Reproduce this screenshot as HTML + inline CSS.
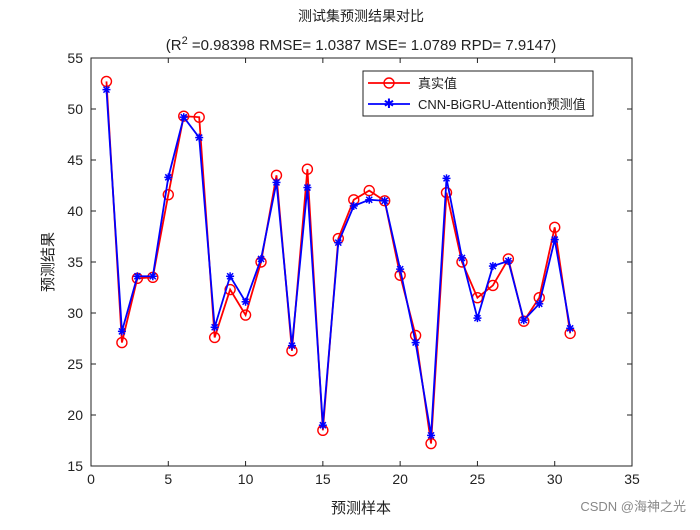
<!DOCTYPE html>
<html><head><meta charset="utf-8"><style>
body{margin:0;background:#fff;width:700px;height:525px;overflow:hidden}
svg text{font-family:"Liberation Sans","Noto Sans CJK SC",sans-serif;fill:#222}
</style></head><body>
<svg id="chart" width="700" height="525">
<text x="361" y="21" text-anchor="middle" font-size="14">测试集预测结果对比</text>
<text x="361" y="50" text-anchor="middle" font-size="15">(R<tspan dy="-6" font-size="11">2</tspan><tspan dy="6"> =0.98398 RMSE= 1.0387 MSE= 1.0789 RPD= 7.9147)</tspan></text>
<g id="axes"></g>
<g id="series"></g>
<g>
<rect x="363" y="71" width="230" height="45" fill="#fff" stroke="#222" stroke-width="1"/>
<line x1="368" y1="83" x2="410" y2="83" stroke="#f00" stroke-width="1.8"/>
<circle cx="389" cy="83" r="5" fill="none" stroke="#f00" stroke-width="1.4"/>
<text x="418" y="88" font-size="13">真实值</text>
<line x1="368" y1="104" x2="410" y2="104" stroke="#00f" stroke-width="1.8"/>
<text x="389" y="108" text-anchor="middle" font-size="13" style="fill:#00f">✱</text>
<text x="418" y="109" font-size="13">CNN-BiGRU-Attention预测值</text>
</g>
<text x="361" y="513" text-anchor="middle" font-size="15">预测样本</text>
<text transform="translate(53,262) rotate(-90)" text-anchor="middle" font-size="15">预测结果</text>
<text x="686" y="511" text-anchor="end" font-size="13" style="fill:#888">CSDN @海神之光</text>
</svg>
<script>
const actual=[52.7,27.1,33.4,33.5,41.6,49.3,49.2,27.6,32.3,29.8,35.0,43.5,26.3,44.1,18.5,37.3,41.1,42.0,41.0,33.7,27.8,17.2,41.8,35.0,31.5,32.7,35.3,29.2,31.5,38.4,28.0];
const predicted=[51.9,28.2,33.6,33.6,43.3,49.2,47.2,28.6,33.6,31.1,35.3,42.8,26.8,42.3,19.0,36.9,40.5,41.1,41.0,34.3,27.1,18.0,43.2,35.4,29.5,34.6,35.1,29.3,30.9,37.2,28.5];
const xTicks=[0,5,10,15,20,25,30,35];
const yTicks=[15,20,25,30,35,40,45,50,55];
const X0=91,X1=632,Y0=466,Y1=58;
const sx=v=>X0+(v-0)/35*(X1-X0);
const sy=v=>Y0-(v-15)/40*(Y0-Y1);
const NS="http://www.w3.org/2000/svg";
function mk(t,a,p){const e=document.createElementNS(NS,t);for(const k in a)e.setAttribute(k,a[k]);p.appendChild(e);return e;}
const ax=document.getElementById('axes');
const frame=mk('rect',{x:X0,y:Y1,width:X1-X0,height:Y0-Y1,fill:'none',stroke:'#222','stroke-width':1},ax);


xTicks.forEach(t=>{const x=sx(t);
mk('line',{x1:x,y1:Y0,x2:x,y2:Y0-5,stroke:'#222'},ax);mk('line',{x1:x,y1:Y1,x2:x,y2:Y1+5,stroke:'#222'},ax);
const l=mk('text',{x:x,y:Y0+18,'text-anchor':'middle','font-size':14},ax);l.textContent=t;

});
yTicks.forEach(t=>{const y=sy(t);
mk('line',{x1:X0,y1:y,x2:X0+5,y2:y,stroke:'#222'},ax);mk('line',{x1:X1,y1:y,x2:X1-5,y2:y,stroke:'#222'},ax);
const l=mk('text',{x:X0-8,y:y+5,'text-anchor':'end','font-size':14},ax);l.textContent=t;

});
const sg=document.getElementById('series');
const pa=actual.map((v,i)=>sx(i+1)+','+sy(v)).join(' ');
const la=mk('polyline',{points:pa,fill:'none',stroke:'#f00','stroke-width':1.8},sg);


actual.forEach((v,i)=>{const c=mk('circle',{cx:sx(i+1),cy:sy(v),r:5,fill:'none',stroke:'#f00','stroke-width':1.4},sg);

});
const pp=predicted.map((v,i)=>sx(i+1)+','+sy(v)).join(' ');
const lp=mk('polyline',{points:pp,fill:'none',stroke:'#00f','stroke-width':1.8},sg);


predicted.forEach((v,i)=>{const x=sx(i+1),y=sy(v);const g=mk('g',{stroke:'#00f','stroke-width':1.5},sg);


mk('line',{x1:x-4,y1:y,x2:x+4,y2:y},g);mk('line',{x1:x,y1:y-4,x2:x,y2:y+4},g);
mk('line',{x1:x-3,y1:y-3,x2:x+3,y2:y+3},g);mk('line',{x1:x-3,y1:y+3,x2:x+3,y2:y-3},g);});
</script>
</body></html>
